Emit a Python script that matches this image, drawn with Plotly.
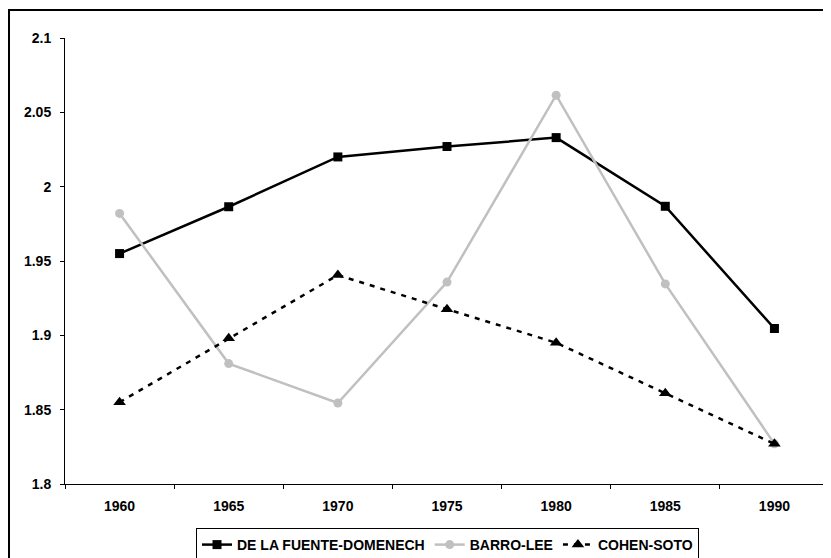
import plotly.graph_objects as go

years = ["1960", "1965", "1970", "1975", "1980", "1985", "1990"]
dlf = [1.955, 1.9865, 2.020, 2.027, 2.033, 1.9868, 1.9046]
barro_lee = [1.982, 1.881, 1.8545, 1.9358, 2.0615, 1.9346, 1.827]
cohen_soto = [1.855, 1.898, 1.9405, 1.9176, 1.895, 1.861, 1.827]
y_ticks = [1.8, 1.85, 1.9, 1.95, 2.0, 2.05, 2.1]
y_labels = ["1.8", "1.85", "1.9", "1.95", "2", "2.05", "2.1"]

# page body has an 8px margin; work in screen pixels and subtract it
OFF = 8
W, H = 831 - OFF, 558 - OFF
L = 65 - OFF
T = 38 - OFF
B = H - (484 - OFF)
R = W - (829 - OFF)

FONT = "Liberation Sans, Arial"
fig = go.Figure()
fig.add_trace(go.Scatter(
    x=years, y=dlf, name="DE LA FUENTE-DOMENECH", mode="lines+markers",
    line=dict(color="black", width=2.5),
    marker=dict(symbol="square", size=9, color="black")))
fig.add_trace(go.Scatter(
    x=years, y=barro_lee, name="BARRO-LEE", mode="lines+markers",
    line=dict(color="#c0c0c0", width=2.5),
    marker=dict(symbol="circle", size=9, color="#c0c0c0")))
fig.add_trace(go.Scatter(
    x=years, y=cohen_soto, name="COHEN-SOTO", mode="lines+markers",
    line=dict(color="black", width=2.5, dash="5px,6px"),
    marker=dict(symbol="triangle-up", size=11, color="black")))

pw = W - L - R
ph = H - T - B

def px_x(p):
    return (p - OFF - L) / pw

def px_y(p):
    return (H - B - (p - OFF)) / ph

bold = dict(family=FONT, size=14, color="black", weight="bold")

fig.update_layout(
    width=W, height=H,
    margin=dict(l=L, r=R, t=T, b=B, autoexpand=False),
    paper_bgcolor="white", plot_bgcolor="white",
    font=dict(family=FONT, size=14, color="black"),
    showlegend=True,
    legend=dict(
        orientation="h", x=px_x(447.5), xanchor="center",
        y=px_y(528), yanchor="top",
        bordercolor="black", borderwidth=1,
        font=bold, itemwidth=30, tracegroupgap=0,
    ),
    xaxis=dict(
        type="category", tickson="boundaries", ticks="outside", ticklen=4,
        tickcolor="black", showline=True, linecolor="black", linewidth=1,
        showgrid=False, zeroline=False, tickfont=bold,
        ticklabelstandoff=9, range=[-0.5, 6.5],
    ),
    yaxis=dict(
        range=[1.8, 2.1], tickvals=y_ticks, ticktext=y_labels,
        ticks="outside", ticklen=4, tickcolor="black",
        showline=True, linecolor="black", linewidth=1,
        showgrid=False, zeroline=False, tickfont=bold,
        ticklabelstandoff=6,
    ),
    shapes=[dict(
        type="rect", xref="paper", yref="paper",
        x0=px_x(9), x1=px_x(845), y0=px_y(10), y1=px_y(575),
        line=dict(color="black", width=2), layer="below")],
)

fig.write_html("out.html")
